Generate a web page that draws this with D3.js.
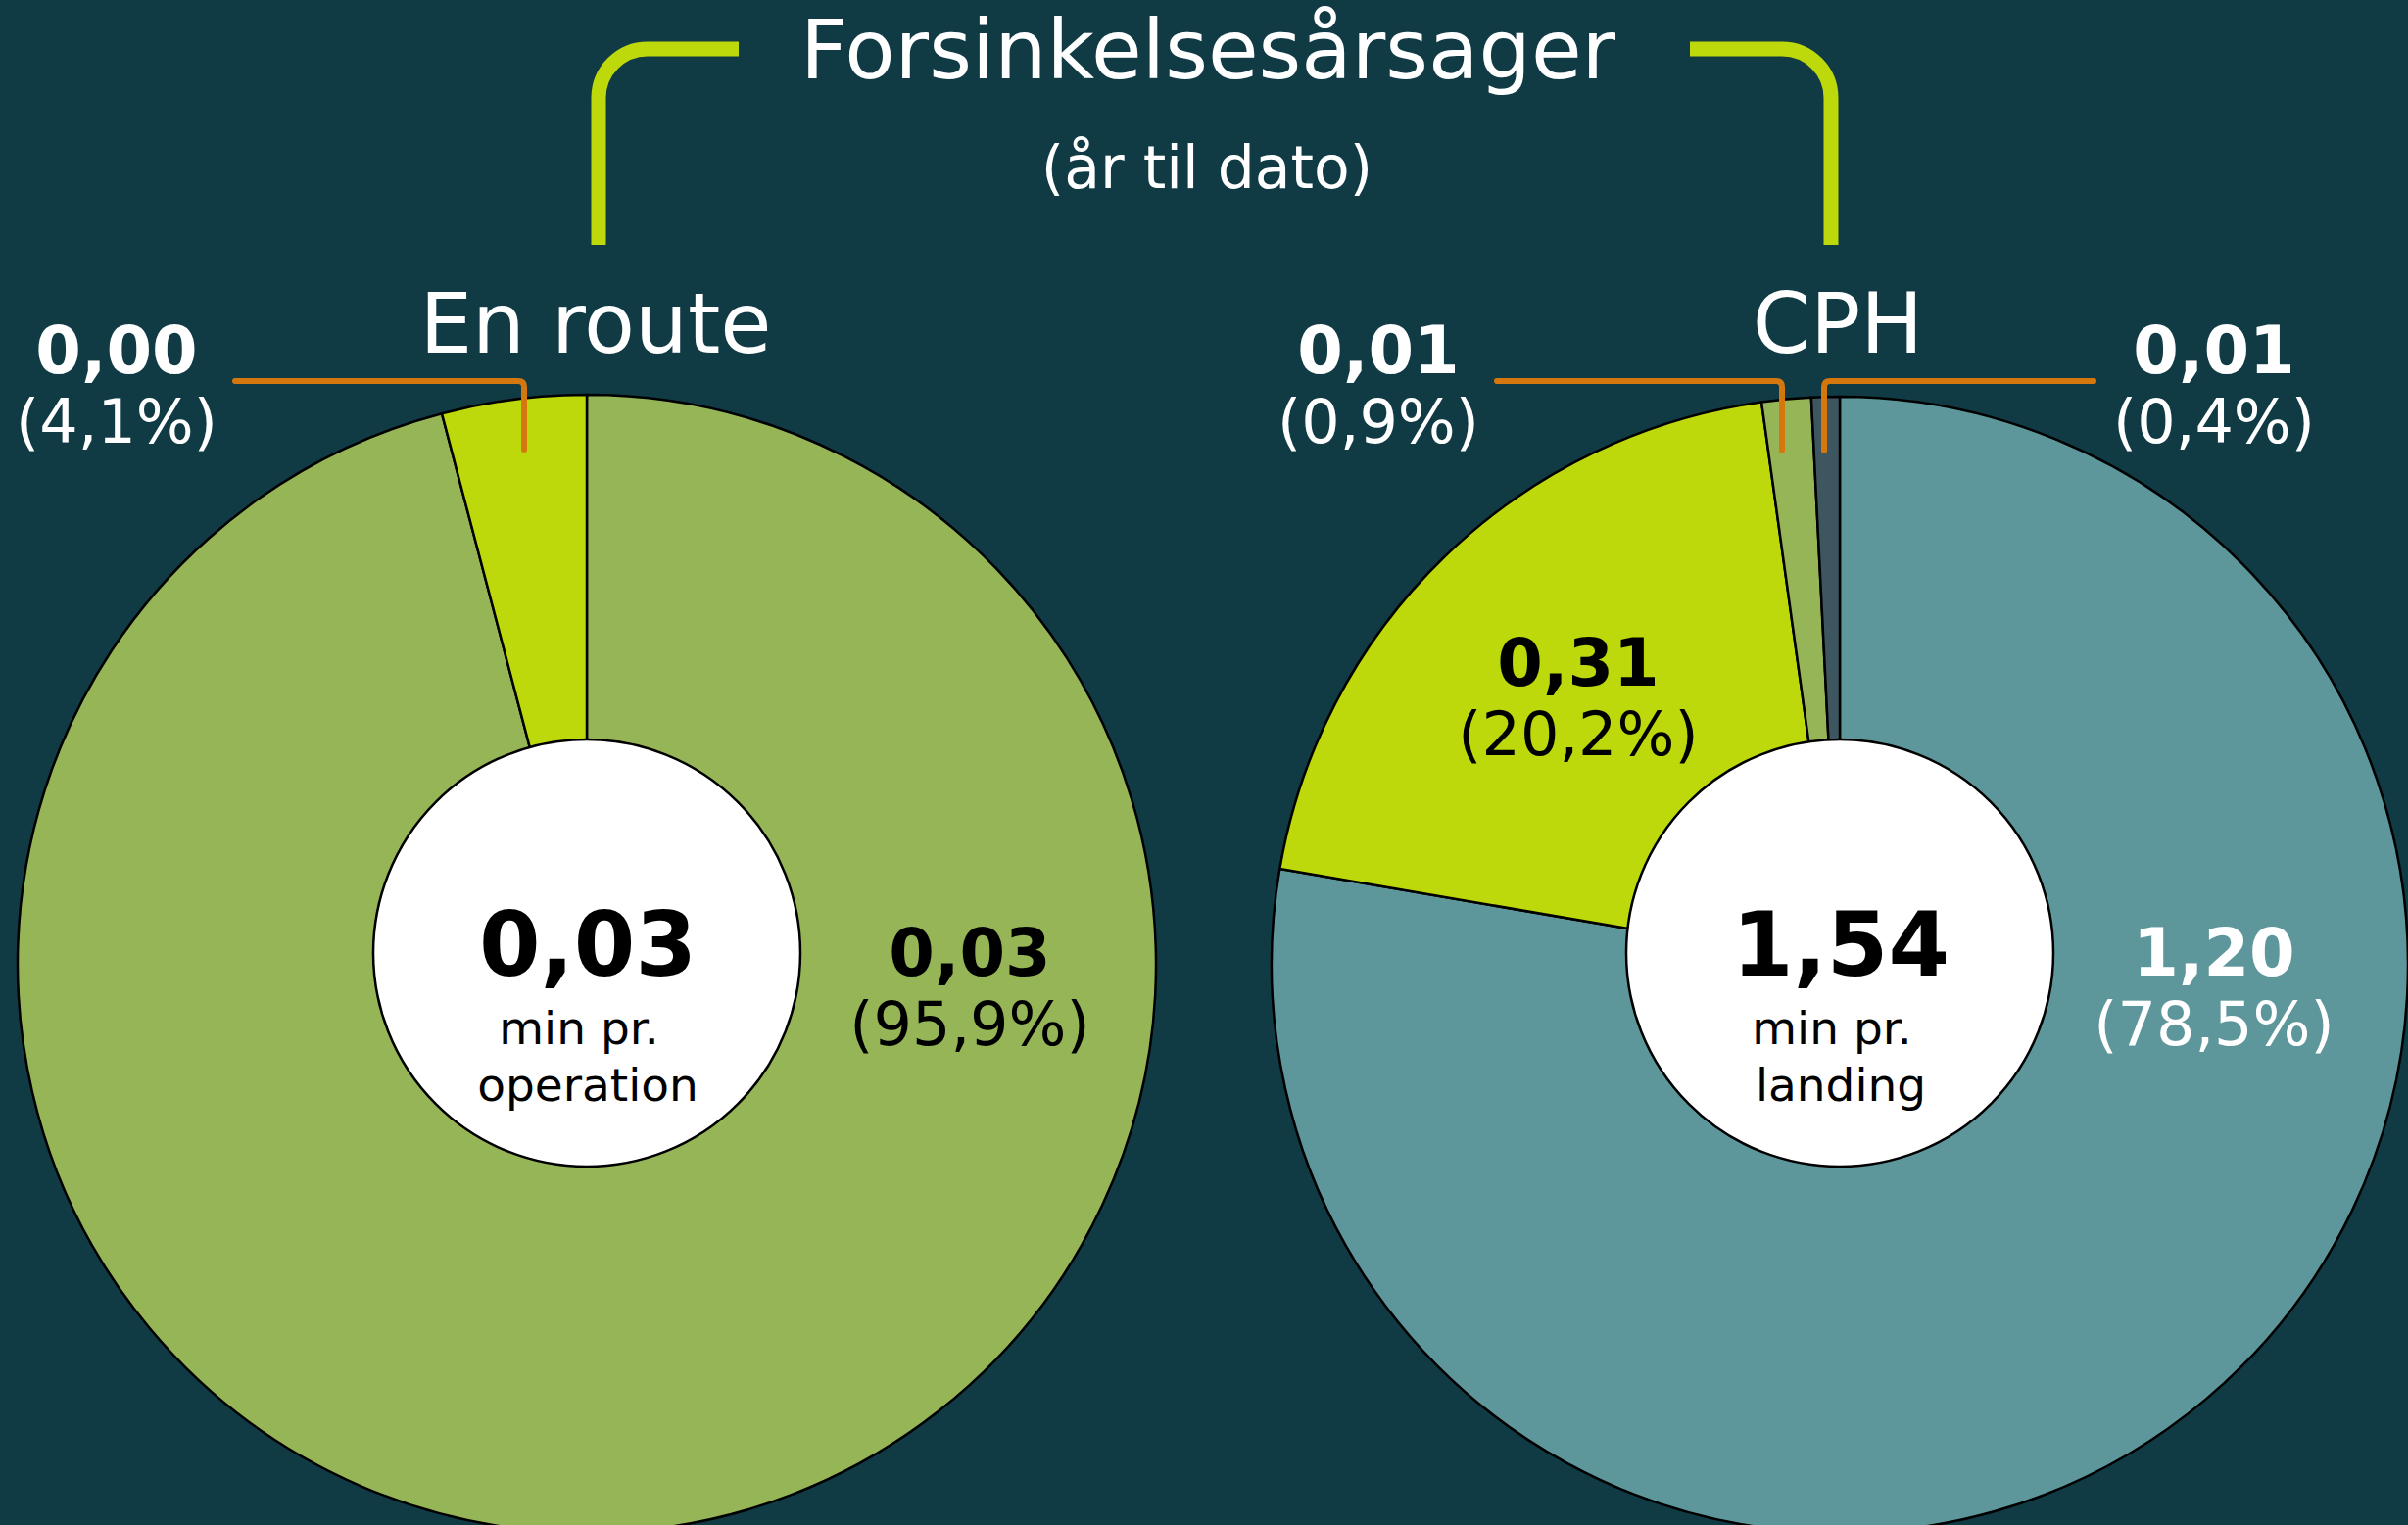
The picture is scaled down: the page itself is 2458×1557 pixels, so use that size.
<!DOCTYPE html>
<html>
<head>
<meta charset="utf-8">
<script src="https://cdn.jsdelivr.net/npm/d3@7"></script>
<style>
  html, body { margin: 0; padding: 0; background: #103a44; }
  svg { display: block; }
  text { font-family: "DejaVu Sans", Verdana, sans-serif; }
</style>
</head>
<body>
<script>
// ---------- DATA ----------
const titleText = "Forsinkelsesårsager";
const subtitleText = "(år til dato)";

const groupNames = ["En route", "CPH"];
const groupTotals = [0.03, 1.54];
const groupUnits = [["min pr.", "operation"], ["min pr.", "landing"]];

// En route (clockwise from 12 o'clock)
const enRouteCategories = ["Årsag 1", "Årsag 2"];
const enRouteValues = [0.03, 0.00];
const enRouteShares = [95.9, 4.1];          // labelled percentages
const enRouteDrawnShares = [95.9, 4.1];     // slice sizes as drawn

// CPH (clockwise from 12 o'clock)
const cphCategories = ["Årsag 3", "Årsag 2", "Årsag 1", "Årsag 4"];
const cphValues = [1.20, 0.31, 0.01, 0.01];
const cphShares = [78.5, 20.2, 0.9, 0.4];   // labelled percentages
const cphDrawnShares = [77.7, 20.1, 1.4, 0.8]; // slice sizes as drawn in the picture

// ---------- STYLE / LAYOUT ----------
const W = 2458, H = 1557;
const colors = {
  "Årsag 1": "#96b556",
  "Årsag 2": "#bdd90b",
  "Årsag 3": "#5e979b",
  "Årsag 4": "#3e5660"
};
const bg = "#103a44";
const lime = "#bdd90b";
const orange = "#d4780e";

const locale = d3.formatLocale({decimal: ",", thousands: ".", grouping: [3], currency: ["", ""]});
const fmtVal = locale.format(".2f");
const fmtPct = locale.format(".1f");

const svg = d3.select("body").append("svg")
  .attr("width", W).attr("height", H)
  .attr("viewBox", `0 0 ${W} ${H}`);

svg.append("rect").attr("width", W).attr("height", H).attr("fill", bg);

// Title
svg.append("text").attr("x", 1233).attr("y", 80)
  .attr("text-anchor", "middle").attr("fill", "#fff")
  .attr("font-size", 84).text(titleText);
svg.append("text").attr("x", 1232).attr("y", 192)
  .attr("text-anchor", "middle").attr("fill", "#fff")
  .attr("font-size", 60).text(subtitleText);

// Brackets
svg.append("path")
  .attr("d", "M611,250 V100 A50,50 0 0 1 661,50 H754")
  .attr("fill", "none").attr("stroke", lime).attr("stroke-width", 15);
svg.append("path")
  .attr("d", "M1725,50 H1819 A50,50 0 0 1 1869,100 V250")
  .attr("fill", "none").attr("stroke", lime).attr("stroke-width", 15);

const pies = [
  {
    cx: 599, cy: 984, r: 581, titleX: 608,
    cats: enRouteCategories, vals: enRouteValues, shares: enRouteShares, drawn: enRouteDrawnShares,
    labels: [
      {x: 990, y: 996, fill: "#000"},
      {x: 119, y: 381, fill: "#fff"}
    ],
    leaders: ["M240,389 H529 Q535,389 535,395 V459"]
  },
  {
    cx: 1878, cy: 985, r: 580, titleX: 1876,
    cats: cphCategories, vals: cphValues, shares: cphShares, drawn: cphDrawnShares,
    labels: [
      {x: 2260, y: 996, fill: "#fff"},
      {x: 1611, y: 700, fill: "#000"},
      {x: 1407, y: 381, fill: "#fff"},
      {x: 2260, y: 381, fill: "#fff"}
    ],
    leaders: ["M1528,389 H1813 Q1819,389 1819,395 V460",
              "M2137,389 H1868 Q1862,389 1862,395 V460"]
  }
];

const pieGen = d3.pie().sort(null).value(d => d.drawn);

pies.forEach((p, gi) => {
  const data = p.cats.map((c, i) => ({cat: c, val: p.vals[i], share: p.shares[i], drawn: p.drawn[i]}));
  const arcs = pieGen(data);
  const arc = d3.arc().innerRadius(0).outerRadius(p.r);
  const g = svg.append("g").attr("transform", `translate(${p.cx},${p.cy})`);
  g.selectAll("path").data(arcs).join("path")
    .attr("d", arc)
    .attr("fill", d => colors[d.data.cat])
    .attr("stroke", "#000").attr("stroke-width", 2.5)
    .attr("stroke-linejoin", "round");

  // center circle
  svg.append("circle").attr("cx", p.cx).attr("cy", 973).attr("r", 218)
    .attr("fill", "#fff").attr("stroke", "#000").attr("stroke-width", 2.5);

  svg.append("text").attr("x", p.cx + 1).attr("y", 996)
    .attr("text-anchor", "middle").attr("fill", "#000")
    .attr("font-size", 90).attr("font-weight", "bold")
    .text(fmtVal(groupTotals[gi]));
  svg.append("text").attr("x", p.cx - 8).attr("y", 1066)
    .attr("text-anchor", "middle").attr("fill", "#000")
    .attr("font-size", 47).text(groupUnits[gi][0]);
  svg.append("text").attr("x", p.cx + 1).attr("y", 1124)
    .attr("text-anchor", "middle").attr("fill", "#000")
    .attr("font-size", 47).text(groupUnits[gi][1]);

  // group title
  svg.append("text").attr("x", p.titleX).attr("y", 360)
    .attr("text-anchor", "middle").attr("fill", "#fff")
    .attr("font-size", 85).text(groupNames[gi]);

  // leaders
  p.leaders.forEach(d => {
    svg.append("path").attr("d", d)
      .attr("fill", "none").attr("stroke", orange).attr("stroke-width", 6)
      .attr("stroke-linecap", "round").attr("stroke-linejoin", "round");
  });

  // slice labels
  data.forEach((d, i) => {
    const L = p.labels[i];
    svg.append("text").attr("x", L.x).attr("y", L.y)
      .attr("text-anchor", "middle").attr("fill", L.fill)
      .attr("font-size", 67).attr("font-weight", "bold")
      .text(fmtVal(d.val));
    svg.append("text").attr("x", L.x).attr("y", L.y + 71)
      .attr("text-anchor", "middle").attr("fill", L.fill)
      .attr("font-size", 62)
      .text("(" + fmtPct(d.share) + "%)");
  });
});
</script>
</body>
</html>
